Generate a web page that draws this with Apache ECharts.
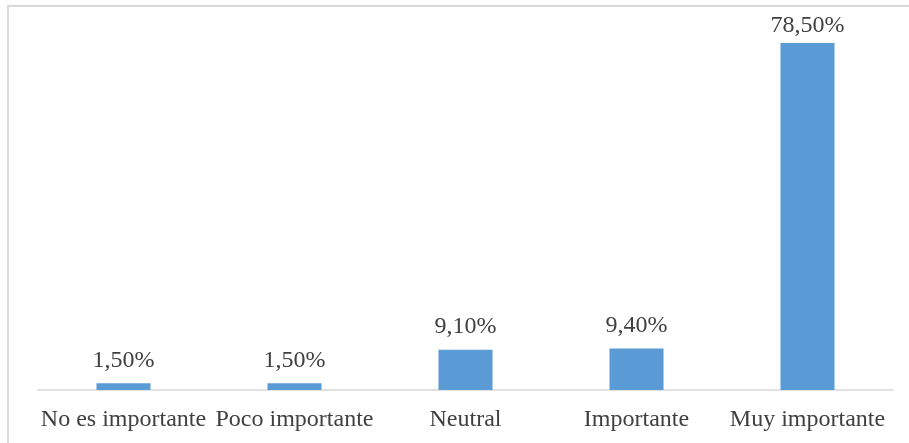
<!DOCTYPE html>
<html>
<head>
<meta charset="utf-8">
<script src="https://cdn.jsdelivr.net/npm/echarts@6/dist/echarts.min.js"></script>
<style>
  html, body { margin: 0; padding: 0; background: #fff; }
  #chart { width: 909px; height: 443px; }
</style>
</head>
<body>
<div id="chart"></div>
<script>
// Importance ratings, share of respondents (%)
const categories = ['No es importante', 'Poco importante', 'Neutral', 'Importante', 'Muy importante'];
const shares = [1.5, 1.5, 9.1, 9.4, 78.5];

const chart = echarts.init(document.getElementById('chart'), null, { renderer: 'canvas' });
const fontFamily = '"Liberation Serif", "Times New Roman", serif';
const maxShare = Math.max(...shares);

// The tallest bar's label sits closer to it so it stays inside the frame
const barData = shares.map(v => v === maxShare ? { value: v, label: { distance: 5 } } : v);

chart.setOption({
  animation: false,
  graphic: [{
    type: 'rect',
    shape: { x: 8, y: 6, width: 920, height: 460 },
    style: { fill: 'none', stroke: '#d9d9d9', lineWidth: 2 },
    silent: true,
    z: -1
  }],
  grid: { left: 38, right: 16, top: 43, bottom: 53 },
  xAxis: {
    type: 'category',
    data: categories,
    axisLine: { lineStyle: { color: '#d9d9d9', width: 1.5 } },
    axisTick: { show: false },
    axisLabel: { color: '#404040', fontFamily, fontSize: 24, margin: 18, interval: 0 }
  },
  yAxis: {
    type: 'value',
    min: 0,
    max: 'dataMax',
    show: false,
    splitLine: { show: false }
  },
  series: [{
    type: 'bar',
    data: barData,
    barWidth: '31.6%',
    itemStyle: { color: '#5b9bd5' },
    label: {
      show: true,
      position: 'top',
      distance: 11,
      color: '#404040',
      fontFamily,
      fontSize: 24,
      formatter: p => p.value.toFixed(2).replace('.', ',') + '%'
    }
  }]
});
</script>
</body>
</html>
